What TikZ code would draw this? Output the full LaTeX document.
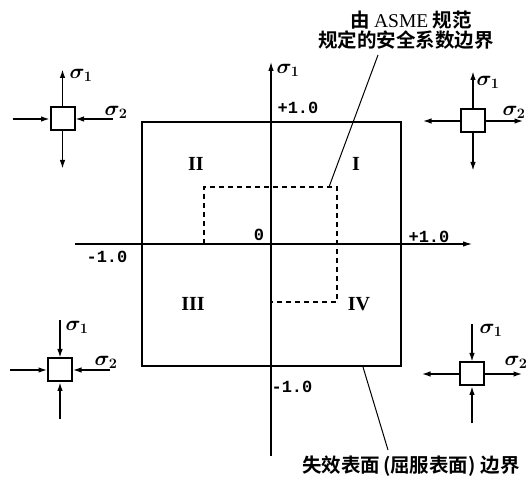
\documentclass[tikz,border=0pt]{standalone}
\usepackage{fontspec}
\usetikzlibrary{arrows.meta,calc}
\newfontfamily\cjkb{Noto Sans CJK SC Bold}
\newfontfamily\serif{Liberation Serif}
\newfontfamily\mono{Liberation Mono}
\begin{document}
\begin{tikzpicture}[x=1pt,y=-1pt,
  ax/.style={line width=1.1pt},
  axarr/.style={line width=1.1pt,-{Latex[length=9pt,width=5.5pt]}},
  box/.style={line width=1.4pt},
  el/.style={draw, line width=2pt, minimum width=24pt, minimum height=23pt, inner sep=0pt},
  arr/.style={line width=1.3pt, -{Latex[length=8.5pt,width=5.5pt]}},
  sig/.style={inner sep=0pt, font=\fontsize{20.74}{24}\selectfont\boldmath},
  num/.style={inner sep=0pt, font=\fontsize{17}{19}\selectfont\mono\bfseries},
  rom/.style={inner sep=0pt, font=\fontsize{20}{22}\selectfont\serif\bfseries},
  cn/.style={inner sep=0pt, font=\fontsize{19.5}{24}\selectfont\cjkb},
  dsh/.style={line width=1.1pt, dash pattern=on 5pt off 4pt},
  lead/.style={line width=1pt}]
\useasboundingbox (0,0) rectangle (531,478);

% axes
\coordinate (xl) at (75,244);
\coordinate (xr) at (472,244);
\coordinate (yb) at (271,456);
\coordinate (yt) at (271,62);
\draw[axarr] (xl) -- (xr);
\draw[axarr] (yb) -- (yt);
\node[sig] (ysig) at (288,70) {$\sigma_1$};

% failure surface square
\coordinate (sq1) at (142,122);
\coordinate (sq2) at (401,366);
\draw[box] (sq1) rectangle (sq2);

% ASME safety boundary (dashed)
\coordinate (d1) at (204,244);
\coordinate (d2) at (204,187);
\coordinate (d3) at (337,187);
\coordinate (d4) at (337,302);
\coordinate (d5) at (271,302);
\draw[dsh] (d1) -- (d2) -- (d3) -- (d4) -- (d5);

% labels on axes
\node[num] (ptop) at (298,108) {+1.0};
\node[num] (pright) at (429,237) {+1.0};
\node[num] (mleft) at (107,257) {-1.0};
\node[num] (mbot) at (292,387) {-1.0};
\node[num] (zero) at (259,235) {0};

% quadrant numerals
\node[rom] (q2) at (196,164) {II};
\node[rom] (q1) at (356,164) {I};
\node[rom] (q3) at (193,304) {III};
\node[rom] (q4) at (359,304) {IV};

% annotations
\node[cn] (asme1) at (411,20) {由 {\serif ASME} 规范};
\node[cn] (asme2) at (406,40) {规定的安全系数边界};
\coordinate (lt1) at (378,55);
\coordinate (lt2) at (329,187);
\draw[lead] (lt1) -- (lt2);

\node[cn] (fail) at (411,466) {失效表面\kern3pt(屈服表面)\kern5pt边界};
\coordinate (lb1) at (363,367);
\coordinate (lb2) at (388,450);
\draw[lead] (lb1) -- (lb2);

% stress element, quadrant II (top left)
\node[el] (e1) at (62.5,119) {};
\draw[arr] (e1.north) -- ($(e1.north)+(0,-37)$);
\draw[arr] (e1.south) -- ($(e1.south)+(0,37)$);
\draw[arr] ($(e1.west)+(-37,0)$) -- (e1.west);
\draw[arr] ($(e1.east)+(37,0)$) -- (e1.east);
\node[sig] (e1s1) at (81,75) {$\sigma_1$};
\node[sig] (e1s2) at (116,112) {$\sigma_2$};

% stress element, quadrant I (top right)
\node[el] (e2) at (473,121) {};
\draw[arr] (e2.north) -- ($(e2.north)+(0,-37)$);
\draw[arr] (e2.south) -- ($(e2.south)+(0,37)$);
\draw[arr] (e2.west) -- ($(e2.west)+(-37,0)$);
\draw[arr] (e2.east) -- ($(e2.east)+(37,0)$);
\node[sig] (e2s1) at (488,82) {$\sigma_1$};
\node[sig] (e2s2) at (514,112) {$\sigma_2$};

% stress element, quadrant III (bottom left)
\node[el] (e3) at (60,370) {};
\draw[arr] ($(e3.north)+(0,-37)$) -- (e3.north);
\draw[arr] ($(e3.south)+(0,37)$) -- (e3.south);
\draw[arr] ($(e3.west)+(-37,0)$) -- (e3.west);
\draw[arr] ($(e3.east)+(37,0)$) -- (e3.east);
\node[sig] (e3s1) at (77,327) {$\sigma_1$};
\node[sig] (e3s2) at (106,362) {$\sigma_2$};

% stress element, quadrant IV (bottom right)
\node[el] (e4) at (472,374) {};
\draw[arr] ($(e4.north)+(0,-37)$) -- (e4.north);
\draw[arr] ($(e4.south)+(0,37)$) -- (e4.south);
\draw[arr] (e4.west) -- ($(e4.west)+(-37,0)$);
\draw[arr] (e4.east) -- ($(e4.east)+(37,0)$);
\node[sig] (e4s1) at (491,330) {$\sigma_1$};
\node[sig] (e4s2) at (516,362) {$\sigma_2$};
\end{tikzpicture}
\end{document}
